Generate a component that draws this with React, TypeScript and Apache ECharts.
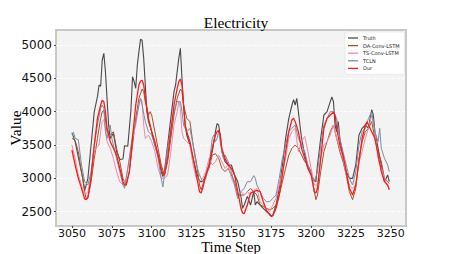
import React, { useEffect, useRef } from "react";
import * as echarts from "echarts";

const xTicks = [3050, 3075, 3100, 3125, 3150, 3175, 3200, 3225, 3250];
const yTicks = [2500, 3000, 3500, 4000, 4500, 5000];
const seriesNames = ["Truth", "DA-Conv-LSTM", "TS-Conv-LSTM", "TCLN", "Our"];

const truth: [number, number][] = [
  [3050, 3685], [3052, 3550], [3055, 3200], [3057, 2980], [3058, 2815], [3060, 3000], [3062, 3500],
  [3064, 4000], [3066, 4225], [3067, 4400], [3068, 4380], [3069, 4775], [3070, 4875], [3071, 4600],
  [3072, 4200], [3073, 3800], [3074, 3600], [3076, 3675], [3078, 3400], [3080, 3285], [3082, 3290],
  [3083, 3490], [3085, 3480], [3087, 4025], [3088, 4525], [3089, 4450], [3090, 4350], [3091, 4700],
  [3092, 4900], [3093, 5085], [3094, 5070], [3095, 4800], [3096, 4400], [3097, 4000], [3098, 3850],
  [3100, 3700], [3102, 3500], [3104, 3350], [3106, 3100], [3107, 3025], [3108, 3100], [3110, 3500],
  [3112, 3900], [3114, 4300], [3115, 4400], [3116, 4600], [3117, 4800], [3118, 4950], [3119, 4500],
  [3120, 4100], [3121, 3800], [3122, 3650], [3124, 3500], [3126, 3300], [3128, 3100], [3130, 2950],
  [3132, 2950], [3134, 3050], [3136, 3200], [3138, 3400], [3140, 3700], [3141, 3820], [3142, 3800],
  [3143, 3650], [3144, 3400], [3146, 3250], [3148, 3200], [3150, 3200], [3152, 3050], [3154, 2950],
  [3156, 2720], [3157, 2550], [3158, 2600], [3160, 2730], [3162, 2600], [3164, 2800], [3165, 2600],
  [3166, 2650], [3168, 2600], [3170, 2550], [3172, 2500], [3174, 2470], [3175, 2430], [3176, 2450],
  [3178, 2600], [3180, 2850], [3182, 3200], [3184, 3600], [3186, 3900], [3188, 4100], [3189, 4180],
  [3190, 4100], [3191, 4200], [3192, 4000], [3193, 3800], [3194, 3600], [3196, 3350], [3198, 3150],
  [3200, 3050], [3202, 2970], [3203, 2950], [3204, 3200], [3206, 3600], [3208, 3950], [3210, 4000],
  [3212, 4150], [3213, 4220], [3214, 4150], [3215, 3800], [3216, 3700], [3217, 3850], [3218, 3600],
  [3220, 3300], [3222, 3100], [3224, 3000], [3226, 3000], [3228, 3200], [3230, 3650], [3232, 3750],
  [3234, 3800], [3236, 3750], [3237, 3900], [3238, 4030], [3239, 3950], [3240, 3700], [3242, 3450],
  [3244, 3200], [3246, 2950], [3248, 3050], [3249, 2950],
];

const daConv: [number, number][] = [
  [3050, 3600], [3052, 3570], [3054, 3400], [3056, 3100], [3058, 2800], [3059, 2680], [3060, 2700],
  [3062, 2950], [3064, 3300], [3066, 3600], [3068, 3900], [3069, 4000], [3070, 4020], [3071, 3900],
  [3072, 3700], [3074, 3650], [3076, 3700], [3078, 3450], [3080, 3250], [3082, 3000], [3084, 2900],
  [3086, 3100], [3088, 3500], [3090, 3900], [3092, 4200], [3094, 4340], [3095, 4300], [3096, 4150],
  [3098, 3950], [3099, 4000], [3100, 3950], [3102, 3700], [3104, 3450], [3106, 3200], [3108, 3050],
  [3110, 3250], [3112, 3600], [3114, 3950], [3116, 4200], [3118, 4340], [3119, 4300], [3120, 4100],
  [3122, 3900], [3124, 3850], [3126, 3500], [3128, 3250], [3130, 2900], [3131, 2830], [3132, 2900],
  [3134, 3050], [3136, 3150], [3138, 3350], [3140, 3370], [3142, 3300], [3144, 3150], [3146, 3100],
  [3148, 3150], [3150, 3050], [3152, 2950], [3154, 2750], [3156, 2750], [3158, 2750], [3160, 2800],
  [3162, 2850], [3164, 2800], [3166, 2750], [3168, 2600], [3170, 2580], [3172, 2550], [3174, 2530],
  [3176, 2550], [3178, 2600], [3180, 2750], [3182, 2950], [3184, 3150], [3186, 3350], [3188, 3450],
  [3190, 3500], [3192, 3450], [3194, 3350], [3196, 3250], [3198, 3200], [3200, 3100], [3202, 2800],
  [3203, 2680], [3204, 2750], [3206, 3100], [3208, 3400], [3210, 3550], [3212, 3700], [3214, 3800],
  [3215, 3700], [3216, 3600], [3218, 3400], [3220, 3250], [3222, 3050], [3224, 2800], [3226, 2680],
  [3228, 2850], [3230, 3300], [3232, 3550], [3234, 3700], [3236, 3750], [3238, 3850], [3240, 3600],
  [3242, 3400], [3244, 3250], [3246, 3000], [3248, 2950], [3249, 2920],
];

const tsConv: [number, number][] = [
  [3050, 3500], [3052, 3300], [3054, 3050], [3056, 2900], [3058, 2750], [3060, 2800], [3062, 3050],
  [3064, 3400], [3066, 3480], [3067, 3500], [3068, 3700], [3069, 3850], [3070, 3880], [3071, 3750],
  [3072, 3550], [3074, 3450], [3076, 3300], [3078, 3100], [3080, 2950], [3082, 2900], [3084, 3000],
  [3086, 3300], [3088, 3600], [3090, 3800], [3092, 4100], [3093, 4200], [3094, 4150], [3095, 3800],
  [3096, 3600], [3098, 3650], [3100, 3550], [3102, 3400], [3104, 3150], [3106, 3000], [3108, 3000],
  [3110, 3050], [3112, 3400], [3114, 3800], [3116, 4000], [3117, 4150], [3118, 4050], [3119, 3700],
  [3120, 3600], [3122, 3550], [3124, 3500], [3126, 3200], [3128, 3000], [3130, 2950], [3132, 3000],
  [3134, 3100], [3136, 3300], [3138, 3200], [3140, 3250], [3142, 3350], [3144, 3250], [3146, 3150],
  [3148, 3200], [3150, 3000], [3152, 2900], [3154, 2700], [3156, 2800], [3158, 2750], [3160, 2800],
  [3162, 2750], [3164, 2820], [3166, 2850], [3168, 2650], [3170, 2600], [3172, 2550], [3174, 2500],
  [3176, 2600], [3178, 2700], [3180, 2900], [3182, 3100], [3184, 3300], [3186, 3600], [3188, 3700],
  [3190, 3750], [3192, 3400], [3194, 3550], [3196, 3630], [3198, 3400], [3200, 3150], [3202, 2900],
  [3204, 2900], [3206, 3300], [3208, 3500], [3210, 3550], [3212, 3650], [3214, 3800], [3216, 3600],
  [3218, 3450], [3220, 3300], [3222, 3050], [3224, 2900], [3226, 2850], [3228, 2900], [3230, 3250],
  [3232, 3400], [3234, 3600], [3236, 3750], [3238, 3950], [3240, 3700], [3242, 3300], [3244, 3150],
  [3246, 3000], [3248, 2880], [3249, 2850],
];

const tcln: [number, number][] = [
  [3050, 3650], [3051, 3690], [3052, 3600], [3054, 3580], [3056, 3200], [3058, 2950], [3060, 2900],
  [3062, 3100], [3064, 3500], [3066, 3800], [3068, 4050], [3069, 4100], [3070, 4050], [3071, 3700],
  [3072, 3600], [3073, 3700], [3074, 3800], [3075, 3600], [3076, 3500], [3078, 3300], [3080, 3100],
  [3082, 2900], [3083, 2850], [3084, 3000], [3086, 3300], [3088, 3650], [3090, 3850], [3092, 4100],
  [3093, 4200], [3094, 4100], [3096, 3850], [3098, 3700], [3100, 3650], [3102, 3500], [3104, 3300],
  [3106, 3000], [3107, 2870], [3108, 3050], [3110, 3450], [3112, 3750], [3114, 4000], [3116, 4150],
  [3118, 4150], [3119, 4000], [3120, 3800], [3122, 3700], [3124, 3750], [3126, 3500], [3128, 3200],
  [3130, 3050], [3132, 2950], [3134, 3000], [3136, 3200], [3138, 3600], [3139, 3650], [3140, 3550],
  [3141, 3600], [3142, 3700], [3144, 3400], [3145, 3300], [3146, 3350], [3148, 3250], [3150, 3100],
  [3152, 2900], [3154, 2700], [3156, 2800], [3158, 2850], [3160, 2950], [3162, 2950], [3164, 3040],
  [3165, 3000], [3166, 2900], [3168, 2800], [3170, 2700], [3172, 2650], [3174, 2650], [3176, 2700],
  [3178, 2750], [3180, 3000], [3182, 3300], [3184, 3500], [3186, 3700], [3188, 3750], [3190, 3800],
  [3192, 3600], [3194, 3500], [3196, 3400], [3198, 3200], [3200, 3050], [3202, 2950], [3204, 3100],
  [3206, 3500], [3208, 3800], [3210, 3900], [3212, 4000], [3214, 4000], [3216, 3900], [3218, 3600],
  [3220, 3400], [3222, 3200], [3224, 3000], [3226, 2900], [3228, 3100], [3230, 3500], [3232, 3700],
  [3234, 3750], [3236, 3900], [3238, 4000], [3240, 3700], [3242, 3550], [3243, 3750], [3244, 3450],
  [3246, 3300], [3248, 3200], [3249, 3100],
];

const ours: [number, number][] = [
  [3050, 3425], [3052, 3200], [3054, 3000], [3056, 2850], [3058, 2690], [3059, 2680], [3060, 2720],
  [3062, 3000], [3064, 3500], [3066, 3900], [3068, 4100], [3069, 4170], [3070, 4150], [3071, 4000],
  [3072, 3750], [3074, 3550], [3076, 3450], [3078, 3350], [3080, 3150], [3082, 2950], [3083, 2900],
  [3084, 2900], [3086, 3100], [3088, 3600], [3090, 4100], [3092, 4400], [3093, 4460], [3094, 4470],
  [3095, 4400], [3096, 4200], [3098, 3900], [3100, 3700], [3102, 3550], [3104, 3350], [3106, 3150],
  [3107, 3060], [3108, 3050], [3110, 3300], [3112, 3700], [3114, 4100], [3116, 4350], [3117, 4450],
  [3118, 4490], [3119, 4400], [3120, 4100], [3121, 3800], [3122, 3700], [3124, 3550], [3126, 3300],
  [3128, 3050], [3130, 2800], [3131, 2780], [3132, 2850], [3134, 3050], [3136, 3200], [3138, 3450],
  [3140, 3650], [3141, 3700], [3142, 3720], [3143, 3650], [3144, 3450], [3146, 3300], [3148, 3200],
  [3150, 3150], [3152, 3050], [3154, 2800], [3156, 2550], [3157, 2480], [3158, 2470], [3160, 2600],
  [3162, 2780], [3164, 2800], [3166, 2820], [3168, 2800], [3170, 2650], [3172, 2520], [3174, 2450],
  [3175, 2430], [3176, 2440], [3178, 2550], [3180, 2750], [3182, 3050], [3184, 3400], [3186, 3700],
  [3188, 3880], [3189, 3900], [3190, 3850], [3192, 3700], [3194, 3450], [3196, 3300], [3198, 3150],
  [3200, 3050], [3202, 2800], [3203, 2780], [3204, 2850], [3206, 3300], [3208, 3750], [3210, 3900],
  [3212, 3950], [3214, 3990], [3215, 3950], [3216, 3750], [3218, 3500], [3220, 3350], [3222, 3100],
  [3224, 2850], [3226, 2750], [3228, 2900], [3230, 3250], [3232, 3600], [3234, 3800], [3235, 3850],
  [3236, 3800], [3238, 3700], [3240, 3600], [3242, 3350], [3244, 3100], [3246, 2950], [3248, 2900],
  [3249, 2830],
];

const seriesData = [truth, daConv, tsConv, tcln, ours];
const seriesColors = ["rgba(30,30,30,0.8)", "#a0522d", "#f08aa8", "#7a8ea3", "#ff1a1a"];
const seriesWidths = [1.1, 1, 1, 1, 1.3];

export default function App() {
  const ref = useRef<HTMLDivElement>(null);
  useEffect(() => {
    if (!ref.current) return;
    const chart = echarts.init(ref.current, null, { renderer: "svg" });
    const serif = "'Liberation Serif', 'DejaVu Serif', serif";
    const sans = "'DejaVu Sans', sans-serif";
    chart.setOption({
      animation: false,
      backgroundColor: "#ffffff",
      title: {
        text: "Electricity",
        left: 231,
        textAlign: "center",
        top: 9,
        textStyle: { fontFamily: serif, fontSize: 15.5, fontWeight: "normal", color: "#000" },
      },
      legend: {
        data: seriesNames.map((name) => ({ name, icon: "rect" })),
        orient: "vertical",
        left: 345,
        top: 32,
        itemWidth: 10,
        itemHeight: 1.3,
        itemGap: 1.6,
        padding: [3, 5, 3, 3],
        backgroundColor: "#ffffff",
        borderColor: "#dddddd",
        borderWidth: 0.6,
        borderRadius: 2,
        textStyle: { fontFamily: sans, fontSize: 5, lineHeight: 6, color: "#222" },
      },
      grid: {
        left: 56,
        right: 45,
        top: 30,
        bottom: 28,
        outerBoundsMode: "none",
        containLabel: false,
        show: true,
        backgroundColor: "#f3f3f3",
        borderColor: "#c8c8c8",
        borderWidth: 2,
      },
      xAxis: {
        type: "value",
        min: 3040,
        max: 3259.5,
        name: "Time Step",
        nameLocation: "middle",
        nameGap: 13,
        nameMoveOverlap: false,
        nameTextStyle: { fontFamily: serif, fontSize: 14.5, lineHeight: 15, color: "#000" },
        axisLine: { show: false },
        axisTick: { show: true, length: 2, lineStyle: { color: "#444" }, customValues: xTicks },
        axisLabel: {
          customValues: xTicks,
          formatter: (v: number) => String(v),
          fontFamily: sans,
          fontSize: 11,
          lineHeight: 11,
          color: "#111",
          margin: 1.5,
        },
        splitLine: { show: false },
      },
      yAxis: {
        type: "value",
        min: 2285,
        max: 5225,
        name: "Value",
        nameLocation: "middle",
        nameGap: 33,
        nameMoveOverlap: false,
        nameTextStyle: { fontFamily: serif, fontSize: 15.5, color: "#000" },
        axisLine: { show: false },
        axisTick: { show: true, length: 2, lineStyle: { color: "#444" }, customValues: yTicks },
        axisLabel: {
          customValues: yTicks,
          formatter: (v: number) => String(v),
          fontFamily: sans,
          fontSize: 12,
          color: "#111",
          margin: 4,
        },
        splitLine: { show: true, lineStyle: { color: "#ffffff", type: "dashed", width: 0.8 } },
      },
      series: seriesNames.map((name, i) => ({
        name,
        type: "line",
        data: seriesData[i],
        symbol: "none",
        lineStyle: { color: seriesColors[i], width: seriesWidths[i] },
        itemStyle: { color: seriesColors[i] },
        z: i + 2,
      })),
    });
    return () => chart.dispose();
  }, []);
  return <div ref={ref} style={{ width: 451, height: 254, position: "absolute", left: 0, top: 0 }} />;
}
